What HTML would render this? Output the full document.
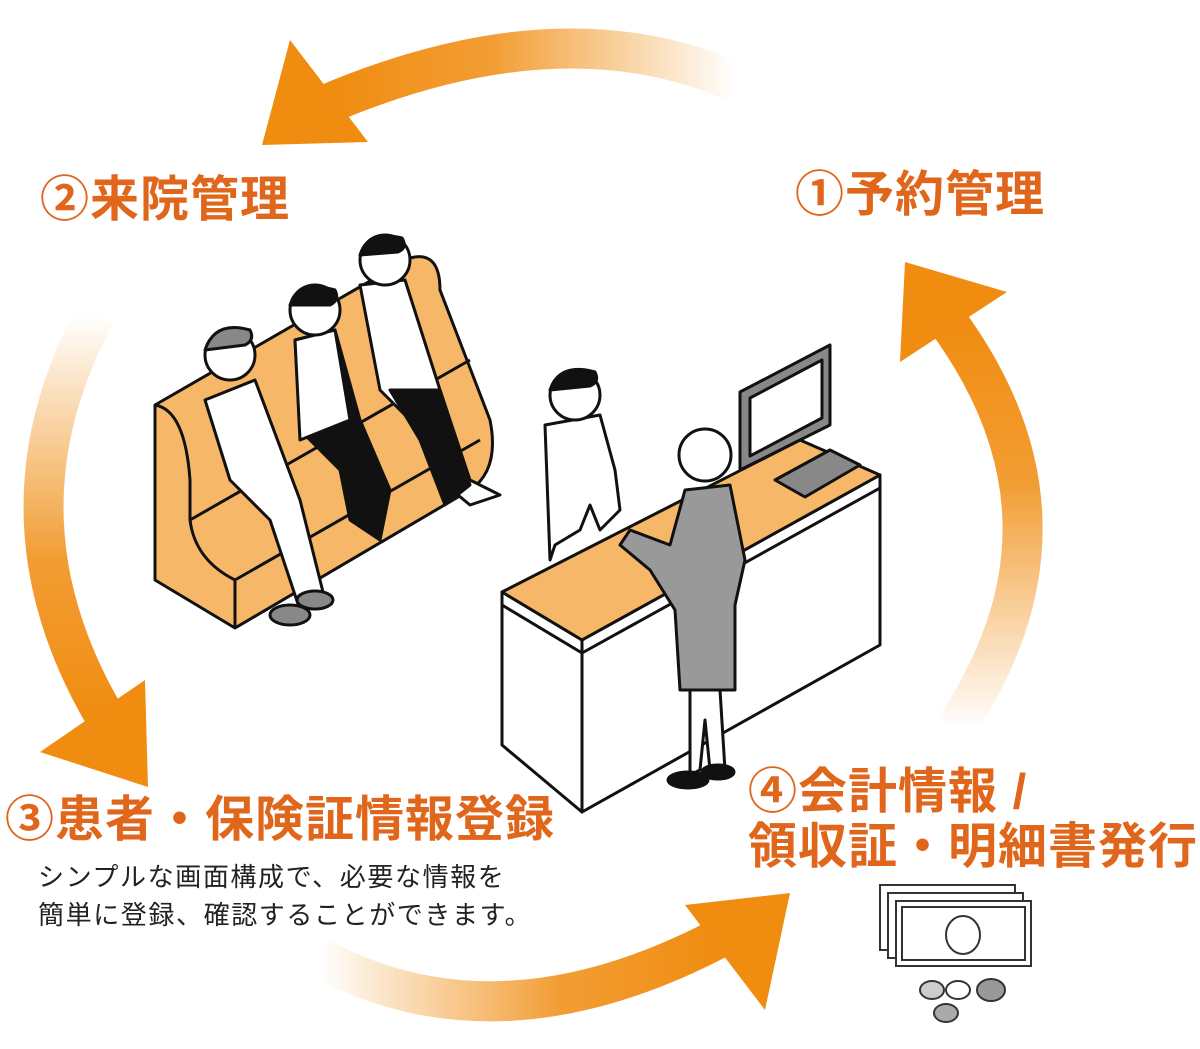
<!DOCTYPE html>
<html><head><meta charset="utf-8"><style>
html,body{margin:0;padding:0;background:#fff}
body{width:1200px;height:1049px;position:relative;overflow:hidden;font-family:"Liberation Sans","Noto Sans CJK JP",sans-serif}
.t{position:absolute;color:#e0661c;font-weight:bold;font-size:49px;white-space:nowrap;letter-spacing:1px;line-height:1}
.s{position:absolute;color:#222;font-size:26px;letter-spacing:1.6px;line-height:38px;left:38px;top:858px;white-space:nowrap}
svg{position:absolute;left:0;top:0}
</style></head><body>
<svg width="1200" height="1049" viewBox="0 0 1200 1049">
<defs>
<linearGradient id="gt" gradientUnits="userSpaceOnUse" x1="735" y1="0" x2="330" y2="0"><stop offset="0" stop-color="#f08c10" stop-opacity="0"/><stop offset="0.6" stop-color="#f08c10" stop-opacity="0.85"/><stop offset="1" stop-color="#f08c10"/></linearGradient>
<linearGradient id="gl" gradientUnits="userSpaceOnUse" x1="0" y1="315" x2="0" y2="720"><stop offset="0" stop-color="#f08c10" stop-opacity="0"/><stop offset="0.6" stop-color="#f08c10" stop-opacity="0.85"/><stop offset="1" stop-color="#f08c10"/></linearGradient>
<linearGradient id="gb" gradientUnits="userSpaceOnUse" x1="320" y1="0" x2="720" y2="0"><stop offset="0" stop-color="#f08c10" stop-opacity="0"/><stop offset="0.6" stop-color="#f08c10" stop-opacity="0.85"/><stop offset="1" stop-color="#f08c10"/></linearGradient>
<linearGradient id="gr" gradientUnits="userSpaceOnUse" x1="0" y1="730" x2="0" y2="320"><stop offset="0" stop-color="#f08c10" stop-opacity="0"/><stop offset="0.6" stop-color="#f08c10" stop-opacity="0.85"/><stop offset="1" stop-color="#f08c10"/></linearGradient>
</defs>
<g fill="none" stroke-width="40">
<path d="M735,82 Q560,5 325,105" stroke="url(#gt)"/>
<path d="M95,315 Q-15,520 110,725" stroke="url(#gl)"/>
<path d="M320,958 Q500,1055 725,935" stroke="url(#gb)"/>
<path d="M955,728 Q1095,520 945,318" stroke="url(#gr)"/>
</g>
<g fill="#f08c10">
<polygon points="290,40 262,145 368,142"/>
<polygon points="40,752 148,787 145,680"/>
<polygon points="685,905 790,893 765,1010"/>
<polygon points="905,262 1007,292 900,362"/>
</g>
<g stroke="#111" stroke-width="3" stroke-linejoin="round">
<path d="M155,405 L410,258 Q440,250 440,290 L490,420 Q500,470 470,490 L235,628 L155,580 Z" fill="#f6b868"/>
<path d="M155,405 Q185,410 190,480 L190,520 Q195,560 235,580 L235,628" fill="none"/>
<path d="M190,520 L470,360" fill="none"/>
<path d="M235,580 L480,440" fill="none"/>
</g>
<g stroke="#111" stroke-width="3" stroke-linejoin="round">
<path d="M205,400 L255,380 L300,500 L325,600 L300,610 L270,520 L230,480 Z" fill="#fff"/>
<ellipse cx="290" cy="615" rx="20" ry="10" fill="#888"/><ellipse cx="315" cy="600" rx="18" ry="9" fill="#888"/>
<circle cx="230" cy="355" r="25" fill="#fff"/><path d="M205,350 Q215,320 250,330 Q255,340 245,345 Z" fill="#888"/>
<path d="M295,340 L335,330 L360,420 L390,490 L380,540 L350,520 L340,470 L300,430 Z" fill="#111"/>
<path d="M295,340 L335,330 L350,420 L300,440 Z" fill="#fff"/>
<circle cx="315" cy="310" r="25" fill="#fff"/><path d="M290,305 Q300,280 335,290 Q340,300 330,305 Z" fill="#111"/>
<path d="M360,285 L405,280 L440,390 L470,480 L500,495 L470,505 L440,480 L410,420 L380,390 Z" fill="#fff"/>
<path d="M390,390 L440,390 L470,485 L445,505 L420,440 Z" fill="#111"/>
<circle cx="385" cy="260" r="25" fill="#fff"/><path d="M360,255 Q368,230 402,238 Q408,248 398,252 Z" fill="#111"/>
</g>
<g stroke="#111" stroke-width="3" stroke-linejoin="round">
<polygon points="502,592 582,640 582,812 502,745" fill="#fff"/>
<polygon points="582,640 880,475 880,645 582,812" fill="#fff"/>
<polygon points="502,592 800,440 880,475 582,640" fill="#f6b868"/>
<polyline points="502,605 582,653 880,488" fill="none"/>
<polygon points="740,392 830,345 830,425 740,470" fill="#888"/>
<polygon points="750,398 822,360 822,418 750,456" fill="#fff"/>
<polygon points="775,480 830,450 860,465 805,497" fill="#888"/>
<path d="M545,425 L600,415 L615,470 L620,510 L600,530 L590,505 L580,530 L555,545 L550,560 Z" fill="#fff"/>
<circle cx="575" cy="395" r="25" fill="#fff"/><path d="M550,390 Q560,362 595,372 Q600,382 590,386 Z" fill="#111"/>
<path d="M685,490 L730,485 L745,560 L735,605 L735,690 L680,690 L675,610 L650,570 L620,545 L630,530 L670,545 Z" fill="#999"/>
<path d="M690,690 L720,690 L725,770 L710,770 L705,720 L700,770 L690,775 Z" fill="#fff"/>
<ellipse cx="688" cy="780" rx="20" ry="8" fill="#111"/><ellipse cx="718" cy="772" rx="16" ry="7" fill="#111"/>
<circle cx="705" cy="455" r="26" fill="#fff"/>
</g>
<g stroke="#333" stroke-width="2">
<rect x="880" y="885" width="135" height="65" fill="#fff"/>
<rect x="888" y="893" width="135" height="65" fill="#fff"/>
<rect x="896" y="901" width="135" height="65" fill="#fff"/>
<rect x="902" y="907" width="123" height="53" fill="none"/>
<ellipse cx="963" cy="935" rx="17" ry="19" fill="#fff"/>
<ellipse cx="932" cy="990" rx="12" ry="9" fill="#ccc"/>
<ellipse cx="958" cy="990" rx="12" ry="9" fill="#fff"/>
<ellipse cx="991" cy="990" rx="14" ry="11" fill="#999"/>
<ellipse cx="946" cy="1013" rx="12" ry="9" fill="#aaa"/>
</g>
</svg>
<div class="t" style="left:40px;top:176px">②来院管理</div>
<div class="t" style="left:795px;top:171px">①予約管理</div>
<div class="t" style="left:5px;top:796px">③患者・保険証情報登録</div>
<div class="t" style="left:748px;top:768px">④会計情報 /</div>
<div class="t" style="left:748px;top:823px">領収証・明細書発行</div>
<div class="s">シンプルな画面構成で、必要な情報を<br>簡単に登録、確認することができます。</div>
</body></html>
